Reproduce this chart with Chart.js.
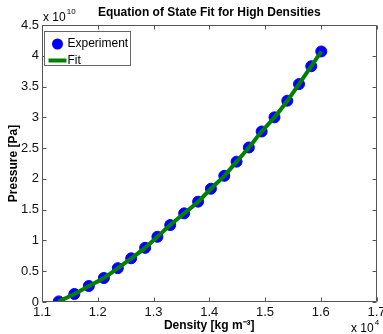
<!DOCTYPE html>
<html>
<head>
<meta charset="utf-8">
<script src="https://cdn.jsdelivr.net/npm/chart.js@4"></script>
<style>
  html, body { margin: 0; padding: 0; background: #fff; }
</style>
</head>
<body>
<canvas id="eos-canvas" width="383" height="334"></canvas>
<script>
// Dados (densidade em kg/m3, pressão em Pa)
const density = [11300, 11580, 11840, 12110, 12360, 12600, 12850, 13070, 13300, 13550, 13800,
                 14030, 14270, 14490, 14710, 14940, 15170, 15400, 15610, 15830, 16010];
const pressure = [0.01e10, 0.13e10, 0.26e10, 0.39e10, 0.55e10, 0.71e10, 0.88e10, 1.06e10, 1.25e10, 1.44e10, 1.63e10,
                  1.84e10, 2.05e10, 2.28e10, 2.51e10, 2.77e10, 3.00e10, 3.27e10, 3.54e10, 3.83e10, 4.07e10];
const fitPressure = [0.01e10, 0.13e10, 0.26e10, 0.39e10, 0.55e10, 0.71e10, 0.88e10, 1.06e10, 1.25e10, 1.44e10, 1.63e10,
                     1.84e10, 2.05e10, 2.28e10, 2.51e10, 2.77e10, 3.00e10, 3.27e10, 3.54e10, 3.83e10, 4.07e10];
const seriesNames = ['Experiment', 'Fit'];
const xTicks = [11000, 12000, 13000, 14000, 15000, 16000, 17000];
const yTicks = [0, 0.5e10, 1e10, 1.5e10, 2e10, 2.5e10, 3e10, 3.5e10, 4e10, 4.5e10];

const FONT = '"Liberation Sans", Arial, sans-serif';
const AXIS = '#555';

function pts(xs, ys) {
  return xs.map((v, i) => ({ x: v, y: ys[i] }));
}

function fmt(v) {
  return String(parseFloat(v.toFixed(3)));
}

// moldura estilo MATLAB: caixa, ticks para dentro, legenda e expoentes
const framePlugin = {
  id: 'frame',
  afterDraw(chart) {
    const { ctx, chartArea: a, scales: { x, y } } = chart;
    const L = Math.round(a.left) + 0.5, R = Math.round(a.right) - 0.5;
    const T = Math.round(a.top) + 0.5, B = Math.round(a.bottom) - 0.5;
    const tl = 4;
    ctx.save();
    ctx.strokeStyle = AXIS;
    ctx.lineWidth = 1;
    ctx.beginPath();
    ctx.rect(L, T, R - L, B - T);
    xTicks.forEach(v => {
      const px = Math.round(x.getPixelForValue(v)) + 0.5;
      ctx.moveTo(px, B); ctx.lineTo(px, B - tl);
      ctx.moveTo(px, T); ctx.lineTo(px, T + tl);
    });
    yTicks.forEach(v => {
      const py = Math.round(y.getPixelForValue(v)) + 0.5;
      ctx.moveTo(L, py); ctx.lineTo(L + tl, py);
      ctx.moveTo(R, py); ctx.lineTo(R - tl, py);
    });
    ctx.stroke();

    // legenda
    const lx = L + 2, ly = T + 6, lw = 86, lh = 34;
    ctx.fillStyle = '#fff';
    ctx.fillRect(lx, ly, lw, lh);
    ctx.strokeStyle = '#666';
    ctx.strokeRect(lx, ly, lw, lh);
    const exp = chart.data.datasets[1], fit = chart.data.datasets[0];
    ctx.fillStyle = exp.backgroundColor;
    ctx.beginPath();
    ctx.arc(lx + 13, ly + 12.5, 5.5, 0, Math.PI * 2);
    ctx.fill();
    ctx.strokeStyle = fit.borderColor;
    ctx.lineWidth = 4;
    ctx.beginPath();
    ctx.moveTo(lx + 4, ly + 29); ctx.lineTo(lx + 22, ly + 29);
    ctx.stroke();
    ctx.fillStyle = '#000';
    ctx.font = '12px ' + FONT;
    ctx.textBaseline = 'middle';
    ctx.fillText(exp.label, lx + 23, ly + 12.5);
    ctx.fillText(fit.label, lx + 23, ly + 29);

    // expoentes dos eixos
    ctx.textBaseline = 'alphabetic';
    ctx.font = '12px ' + FONT;
    ctx.fillText('x 10', 43, 21);
    let w = ctx.measureText('x 10').width;
    ctx.font = '8px ' + FONT;
    ctx.fillText('10', 43 + w + 1, 14);
    ctx.font = '12px ' + FONT;
    ctx.fillText('x 10', 351, 332);
    w = ctx.measureText('x 10').width;
    ctx.font = '8px ' + FONT;
    ctx.fillText('4', 351 + w + 1, 325);
    ctx.restore();
  }
};

const config = {
  type: 'scatter',
  data: {
    datasets: [{
      label: seriesNames[1],
      data: pts(density, fitPressure),
      showLine: true,
      borderColor: '#008000',
      borderWidth: 4,
      pointRadius: 0,
      tension: 0.3,
      order: 0
    }, {
      label: seriesNames[0],
      data: pts(density, pressure),
      backgroundColor: '#0000ff',
      borderColor: '#0000ff',
      pointRadius: 5.5,
      pointBorderWidth: 1,
      order: 1
    }]
  },
  options: {
    responsive: false,
    animation: false,
    layout: { padding: { left: 0, right: 5, top: 0, bottom: 0 } },
    plugins: {
      legend: { display: false },
      tooltip: { enabled: false },
      title: {
        display: true,
        text: 'Equation of State Fit for High Densities',
        fullSize: false,
        color: '#000',
        font: { family: FONT, size: 12, weight: 'bold' },
        padding: { top: 5, bottom: 5.6 }
      }
    },
    scales: {
      x: {
        type: 'linear',
        min: 11000,
        max: 17000,
        grid: { display: false, drawTicks: false },
        border: { display: false },
        afterBuildTicks: s => { s.ticks = xTicks.map(v => ({ value: v })); },
        afterFit: s => { s.height = 32; s.paddingLeft = 0; s.paddingRight = 0; },
        ticks: {
          padding: 3,
          maxRotation: 0,
          color: '#111',
          font: { family: FONT, size: 13 },
          callback: v => fmt(v / 1e4)
        },
        title: {
          display: true,
          text: 'Density [kg m\u207B\u00B3]',
          color: '#000',
          font: { family: FONT, size: 12, weight: 'bold' },
          padding: { top: 0, bottom: 1 }
        }
      },
      y: {
        type: 'linear',
        min: 0,
        max: 4.5e10,
        grid: { display: false, drawTicks: false },
        border: { display: false },
        afterBuildTicks: s => { s.ticks = yTicks.map(v => ({ value: v })); },
        afterFit: s => { s.width = 42; s.paddingTop = 0; s.paddingBottom = 0; },
        ticks: {
          padding: 3,
          color: '#111',
          font: { family: FONT, size: 13 },
          callback: v => fmt(v / 1e10)
        },
        title: {
          display: true,
          text: 'Pressure [Pa]',
          color: '#000',
          font: { family: FONT, size: 12, weight: 'bold' },
          padding: { top: 6, bottom: 0 }
        }
      }
    }
  },
  plugins: [framePlugin]
};

window.onload = function() {
  const ctx = document.getElementById('eos-canvas').getContext('2d');
  new Chart(ctx, config);
};
</script>
</body>
</html>
